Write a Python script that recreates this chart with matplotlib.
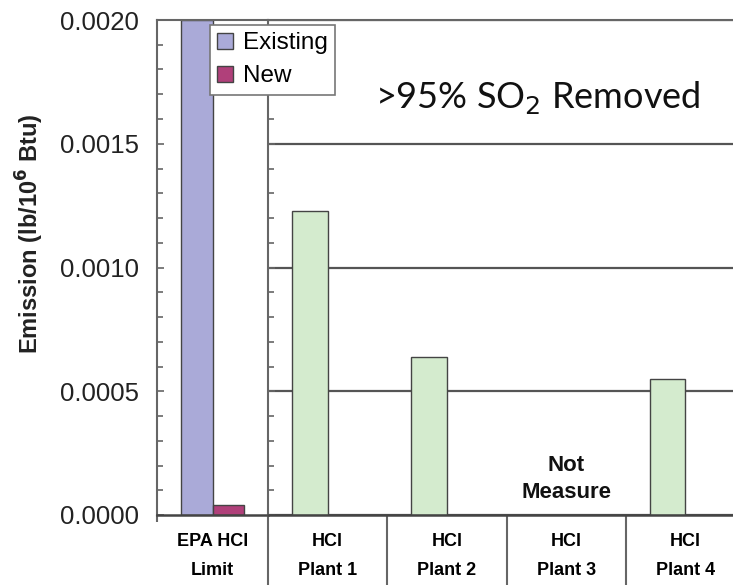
import matplotlib
matplotlib.use("Agg")
import matplotlib.pyplot as plt
import numpy as np

# data
limit_label = "EPA HCl\nLimit"
limit_existing = 0.0020
limit_new = 0.00004
plant_labels = ["HCl\nPlant 1", "HCl\nPlant 2", "HCl\nPlant 3", "HCl\nPlant 4"]
plant_hcl = [0.00123, 0.00064, np.nan, 0.00055]
series_names = ["Existing", "New"]

c_existing = "#aaaad8"
c_new = "#b0407a"
c_plant = "#d4ebce"
c_edge = "#444444"
c_line = "#666666"

plt.rcParams['font.family'] = ['Liberation Sans', 'DejaVu Sans']

W, H = 733, 585
fig = plt.figure(figsize=(W / 100, H / 100), dpi=100)

y0, y1 = 515, 20
bot = (H - y0) / H
hgt = (y0 - y1) / H
ax1 = fig.add_axes([157 / W, bot, (268 - 157) / W, hgt])
ax2 = fig.add_axes([268 / W, bot, (745 - 268) / W, hgt])

for ax in (ax1, ax2):
    ax.set_ylim(0, 0.0020)
    ax.set_yticks(np.arange(0, 0.00201, 0.0005))
    ax.set_yticks(np.arange(0, 0.00201, 0.0001), minor=True)
    ax.tick_params(axis='y', which='both', direction='in', color=c_line, width=1.2)
    ax.tick_params(axis='y', which='major', length=5)
    ax.tick_params(axis='y', which='minor', length=4)
    ax.spines['right'].set_visible(False)
    for s in ('left', 'top'):
        ax.spines[s].set_color(c_line)
        ax.spines[s].set_linewidth(1.5)
    ax.spines['bottom'].set_color(c_edge)
    ax.spines['bottom'].set_linewidth(1.8)

# left panel: EPA limit
w1 = 0.28
ax1.set_xlim(0, 1)
ax1.bar(0.5 - w1 / 2, limit_existing, w1, color=c_existing, edgecolor=c_edge,
        linewidth=1, label=series_names[0])
ax1.bar(0.5 + w1 / 2, limit_new, w1, color=c_new, edgecolor=c_edge,
        linewidth=1, label=series_names[1])
ax1.yaxis.set_major_formatter(matplotlib.ticker.FormatStrFormatter('%.4f'))
ax1.tick_params(axis='y', which='major', labelsize=18.5, pad=13, labelcolor='#222222')
ax1.set_xticks([0])
ax1.set_xticks([0.5], minor=True)
ax1.set_xticklabels([""])
ax1.set_xticklabels([limit_label], minor=True, fontsize=13, fontweight='bold',
                    linespacing=1.95)
ax1.tick_params(axis='x', which='major', direction='out', length=5, color=c_line, width=1.5)
ax1.tick_params(axis='x', which='minor', length=0, pad=13)

# right panel: plants
w2 = 0.3
x = np.arange(len(plant_labels))
ax2.set_xlim(0, 4)
ax2.bar(x + 0.5 - w2 / 2, plant_hcl, w2, color=c_plant, edgecolor=c_edge, linewidth=1)
ax2.set_axisbelow(True)
ax2.grid(axis='y', which='major', color='#555555', linewidth=1.6)
ax2.tick_params(axis='y', which='both', labelleft=False)
ax2.set_xticks(np.arange(0, 5))
ax2.set_xticklabels([""] * 5)
ax2.set_xticks(x + 0.5, minor=True)
ax2.set_xticklabels(plant_labels, minor=True, fontsize=13, fontweight='bold',
                    linespacing=1.95)
ax2.tick_params(axis='x', which='major', direction='out', length=52, color=c_line, width=1.5)
ax2.tick_params(axis='x', which='minor', length=0, pad=13)

ax2.text(2.5, 0.00005, "Not\nMeasure", ha='center', va='bottom', fontsize=16,
         fontweight='bold', color='#111111', linespacing=1.35)

fig.text(375 / W, 1 - 98 / H, ">95% SO$_2$ Removed", fontsize=26,
         family=['Lato', 'DejaVu Sans'], ha='left', va='center', color='#111111')

fig.text(30 / W, 1 - 234 / H, r"Emission (lb/10$^{\mathbf{6}}$ Btu)", rotation=90,
         ha='center', va='center', fontsize=17, fontweight='bold', color='#222222')

leg = fig.legend(loc='upper left', bbox_to_anchor=(210 / W, 1 - 25 / H),
                 fontsize=17.5, frameon=True, fancybox=False, framealpha=1,
                 edgecolor='#777777', handlelength=0.65, handleheight=0.65,
                 handletextpad=0.4, labelspacing=0.45, borderpad=0.3,
                 borderaxespad=0)
leg.get_frame().set_linewidth(1.2)

fig.savefig("out.png", dpi=100)
